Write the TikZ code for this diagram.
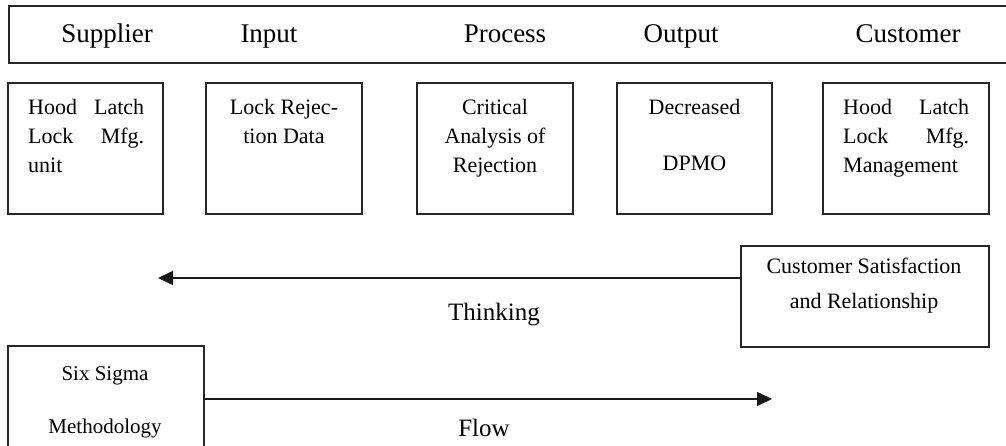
\documentclass[tikz,border=0pt]{standalone}
\usepackage{fontspec}
\setmainfont{Liberation Serif}
\usetikzlibrary{arrows.meta}
\begin{document}
\begin{tikzpicture}[x=1pt,y=-1pt,
  frame/.style={draw=black!85, line width=1.5pt, inner sep=0pt, outer sep=0pt},
  hole/.style={inner sep=0pt, outer sep=0pt},
  outline/.style={draw=black!85, line width=1.5pt},
  boxtext/.style={inner sep=0pt, anchor=north, font=\fontsize{22}{29}\selectfont, align=center},
  justtext/.style={inner sep=0pt, anchor=north west, font=\fontsize{22}{29}\selectfont, align=left},
  headtext/.style={inner sep=0pt, anchor=base, font=\fontsize{27}{32}\selectfont},
  flowtext/.style={inner sep=0pt, anchor=base, font=\fontsize{25}{30}\selectfont},
  arr/.style={draw=black!90, line width=1.5pt, -{Triangle[length=15pt,width=14pt]}},
]
\useasboundingbox (0,0) rectangle (1006,446);

% header band (open on the right)
\node[hole, minimum width=997pt, minimum height=57pt] (hdr) at (507.5,34.5) {};
\draw[outline] (hdr.north east) -- (hdr.north west) -- (hdr.south west) -- (hdr.south east);
\node[headtext] (hsup) at (107,43) {Supplier};
\node[headtext] (hin)  at (269,43) {Input};
\node[headtext] (hpro) at (505,43) {Process};
\node[headtext] (hout) at (681,43) {Output};
\node[headtext] (hcus) at (908,43) {Customer};

% SIPOC boxes
\node[frame, minimum width=155pt, minimum height=131pt] (b1) at (85.5,148.5) {};
\node[frame, minimum width=156pt, minimum height=131pt] (b2) at (284,148.5) {};
\node[frame, minimum width=156pt, minimum height=131pt] (b3) at (495,148.5) {};
\node[frame, minimum width=155pt, minimum height=131pt] (b4) at (694.5,148.5) {};
\node[frame, minimum width=166pt, minimum height=131pt] (b5) at (906,148.5) {};

\node[justtext, text width=116pt] (b1t) at (28,99) {Hood\hfill Latch\\Lock\hfill Mfg.\\unit};
\node[boxtext] (b2t) at (284,99) {Lock Rejec-\\tion Data};
\node[boxtext] (b3t) at (495,99) {Critical\\Analysis of\\Rejection};
\node[boxtext] (b4t) at (694.5,99) {Decreased\\[27pt]DPMO};
\node[justtext, text width=126pt] (b5t) at (843,99) {Hood\hfill Latch\\Lock\hfill Mfg.\\Management};

% customer satisfaction box
\node[frame, minimum width=248pt, minimum height=101pt] (cs) at (865,296.5) {};
\node[boxtext] (cst) at (864,258) {Customer Satisfaction\\[6pt]and Relationship};

% six sigma box (cut at the bottom)
\node[hole, minimum width=196pt, minimum height=106pt] (ss) at (106,399) {};
\coordinate (bot) at (0,446);
\draw[outline] (ss.north west |- bot) -- (ss.north west) -- (ss.north east) -- (ss.north east |- bot);
\node[boxtext, font=\fontsize{21}{29}\selectfont] (sst) at (105,366) {Six Sigma\\[24pt]Methodology};

% arrows
\coordinate (tEnd) at (158,278);
\draw[arr] (cs.west |- tEnd) -- (tEnd);
\node[flowtext] (think) at (494,320) {Thinking};

\coordinate (fEnd) at (772,399);
\draw[arr] (ss.east) -- (fEnd);
\node[flowtext] (flow) at (484,436) {Flow};
\end{tikzpicture}
\end{document}
